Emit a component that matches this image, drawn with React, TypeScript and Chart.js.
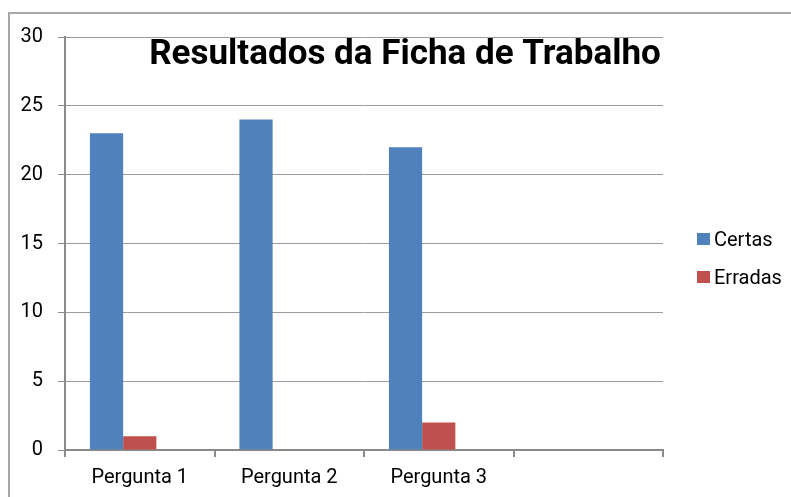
import React, { useEffect, useRef } from "react";
import { Chart, registerables } from "chart.js";

Chart.register(...registerables);

const categories = ["Pergunta 1", "Pergunta 2", "Pergunta 3", ""];
const certas = [23, 24, 22, null];
const erradas = [1, 0, 2, null];
const vazia = [null, null, null, null];
const seriesLabels = ["Certas", "Erradas"];
const seriesColors = ["#4F81BD", "#C0504D"];
const titleText = "Resultados da Ficha de Trabalho";
const yMin = 0;
const yMax = 30;
const yStep = 5;

const FONT = "Roboto, 'Liberation Sans', sans-serif";

const overlayPlugin = {
  id: "overlay",
  afterDraw(chart: any) {
    const ctx = chart.ctx;
    ctx.save();
    ctx.fillStyle = "#000";
    ctx.font = `bold 35px ${FONT}`;
    ctx.textAlign = "center";
    ctx.textBaseline = "alphabetic";
    ctx.fillText(titleText, 405, 64);
    chart.data.datasets.forEach((ds: any, i: number) => {
      if (!ds.label) return;
      const cy = 239 + i * 38;
      ctx.fillStyle = ds.backgroundColor;
      ctx.fillRect(697, cy - 6, 13, 12);
      ctx.fillStyle = "#000";
      ctx.font = `20px ${FONT}`;
      ctx.textAlign = "left";
      ctx.fillText(ds.label, 714, cy + 7);
    });
    ctx.restore();
  },
};

export default function App() {
  const ref = useRef<HTMLCanvasElement | null>(null);
  useEffect(() => {
    if (!ref.current) return;
    const chart = new Chart(ref.current, {
      type: "bar",
      data: {
        labels: categories,
        datasets: [
          { label: seriesLabels[0], data: certas, backgroundColor: seriesColors[0] },
          { label: seriesLabels[1], data: erradas, backgroundColor: seriesColors[1] },
          { label: "", data: vazia, backgroundColor: "#9BBB59" },
        ],
      },
      options: {
        responsive: false,
        animation: false,
        events: [],
        layout: { padding: { top: 37, right: 128, left: 0, bottom: 0 } },
        datasets: { bar: { categoryPercentage: 2 / 3, barPercentage: 1 } },
        plugins: { legend: { display: false }, title: { display: false }, tooltip: { enabled: false } },
        scales: {
          x: {
            offset: true,
            grid: {
              offset: true,
              drawOnChartArea: false,
              drawTicks: true,
              tickLength: 7,
              color: "#8a8a8a",
              lineWidth: 2,
            },
            border: { color: "#8a8a8a", width: 2 },
            ticks: { color: "#000", font: { family: FONT, size: 20 }, padding: 9, maxRotation: 0 },
            afterFit(scale: any) {
              scale.height = 47;
            },
          },
          y: {
            min: yMin,
            max: yMax,
            ticks: { stepSize: yStep, color: "#000", font: { family: FONT, size: 20 }, padding: 15 },
            grid: { color: "#9c9c9c", lineWidth: 1, tickLength: 7, tickColor: "#8a8a8a" },
            border: { color: "#8a8a8a", width: 2 },
            afterFit(scale: any) {
              scale.width = 65;
            },
          },
        },
      },
      plugins: [overlayPlugin],
    });
    return () => chart.destroy();
  }, []);

  return (
    <div style={{ position: "fixed", left: 0, top: 0, width: 791, height: 497, background: "#fff", overflow: "hidden" }}>
      <div
        style={{
          position: "absolute",
          left: 8,
          top: 12,
          width: 800,
          height: 500,
          border: "2px solid #a8a8a8",
        }}
      />
      <canvas ref={ref} width={791} height={497} style={{ position: "absolute", left: 0, top: 0 }} />
    </div>
  );
}
